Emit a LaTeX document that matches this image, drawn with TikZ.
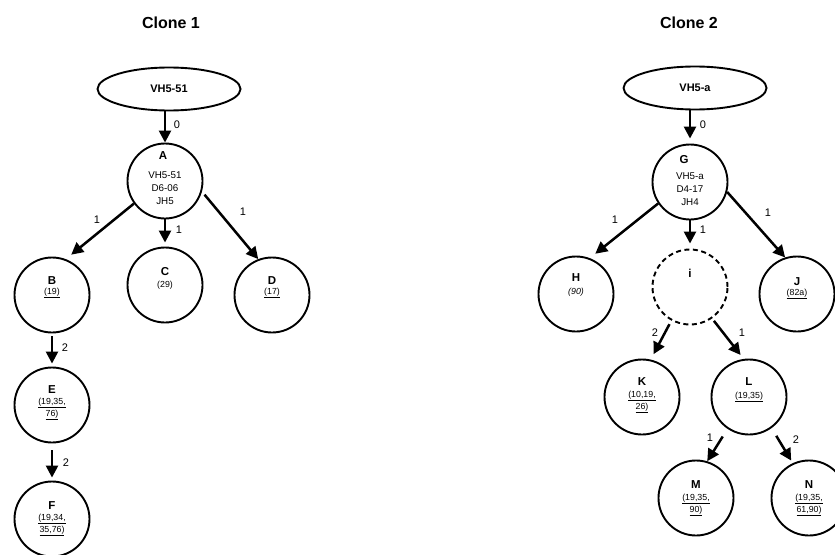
\documentclass[tikz,border=0pt]{standalone}
\usepackage{fontspec}
\setmainfont{Liberation Sans}
\usetikzlibrary{arrows.meta,shapes.geometric,calc}
\begin{document}
\begin{tikzpicture}[x=1pt,y=-1pt,
  circ/.style={circle, draw, line width=1.9pt, minimum size=75pt, inner sep=0pt},
  dcirc/.style={circ, dash pattern=on 5pt off 3.5pt},
  gene/.style={ellipse, draw, line width=1.9pt, minimum width=143pt, minimum height=43pt, inner sep=0pt, font=\bfseries\fontsize{11}{12}\selectfont},
  arr/.style={-{Triangle[length=12pt,width=12pt]}, line width=2.5pt},
  elab/.style={font=\fontsize{11}{12}\selectfont, inner sep=0pt},
  ttl/.style={font=\bfseries\fontsize{16}{18}\selectfont, inner sep=0pt},
  letter/.style={font=\bfseries\fontsize{11.5}{12}\selectfont, inner sep=0pt},
  det/.style={font=\fontsize{9.8}{13}\selectfont, align=center, inner sep=0pt},
  mut/.style={font=\fontsize{8.8}{12}\selectfont, align=center, inner sep=0pt}]
\useasboundingbox (0,0) rectangle (835,554);

% ---------------- Clone 1 ----------------
\node[ttl] (T1) at (171,23) {Clone 1};
\node[gene] (E1) at (169,89) {VH5-51};
\node[circ] (A) at (165,181) {};
\node[circ] (B) at (52,295) {};
\node[circ] (C) at (165,285) {};
\node[circ] (D) at (272,295) {};
\node[circ] (E) at (52,405) {};
\node[circ] (F) at (52,519) {};

\node[letter] (At) at (163,156) {A};
\node[det] (Ad) at (165,188) {VH5-51\\D6-06\\JH5};
\node[letter] (Bt) at (52,281) {B};
\node[mut] (Bd) at (52,293) {\underline{(19)}};
\node[letter] (Ct) at (165,272) {C};
\node[mut] (Cd) at (165,285) {(29)};
\node[letter] (Dt) at (272,281) {D};
\node[mut] (Dd) at (272,293) {\underline{(17)}};
\node[letter] (Et) at (52,390) {E};
\node[mut] (Ed) at (52,409) {\underline{(19,35,}\\\underline{76)}};
\node[letter] (Ft) at (52,506) {F};
\node[mut] (Fd) at (52,525) {\underline{(19,34,}\\\underline{35,76)}};

\draw[arr] (E1.south -| A.north) -- (A.north);
\draw[arr, shorten >=7pt] (A.216) -- (B.69);
\draw[arr, shorten >=4pt] (A.south) -- (C.north);
\draw[arr, shorten <=4pt] (A.344) -- (D.111);
\draw[arr, shorten <=3pt, shorten >=3pt] (B.south) -- (E.north);
\draw[arr, shorten <=7pt, shorten >=3pt] (E.south) -- (F.north);

\node[elab] (l0a) at (177,125) {0};
\node[elab] (l1a) at (97,220) {1};
\node[elab] (l1b) at (179,230) {1};
\node[elab] (l1c) at (243,212) {1};
\node[elab] (l2a) at (65,348) {2};
\node[elab] (l2b) at (66,463) {2};

% ---------------- Clone 2 ----------------
\node[ttl] (T2) at (689,23) {Clone 2};
\node[gene] (E2) at (695,88) {VH5-a};
\node[circ] (G) at (690,182) {};
\node[circ] (H) at (576,294) {};
\node[dcirc] (I) at (690,287) {};
\node[circ] (J) at (797,294) {};
\node[circ] (K) at (642,397) {};
\node[circ] (L) at (749,397) {};
\node[circ] (M) at (696,498) {};
\node[circ] (N) at (809,498) {};

\node[letter] (Gt) at (684,160) {G};
\node[det] (Gd) at (690,189) {VH5-a\\D4-17\\JH4};
\node[letter] (Ht) at (576,278) {H};
\node[mut] (Hd) at (576,292) {\itshape (90)};
\node[letter] (It) at (690,273) {i};
\node[letter] (Jt) at (797,282) {J};
\node[mut] (Jd) at (797,294) {\underline{(82a)}};
\node[letter] (Kt) at (642,382) {K};
\node[mut] (Kd) at (642,402) {\underline{(10,19,}\\\underline{26)}};
\node[letter] (Lt) at (749,382) {L};
\node[mut] (Ld) at (749,397) {\underline{(19,35)}};
\node[letter] (Mt) at (696,485) {M};
\node[mut] (Md) at (696,505) {\underline{(19,35,}\\\underline{90)}};
\node[letter] (Nt) at (809,485) {N};
\node[mut] (Nd) at (809,505) {\underline{(19,35,}\\\underline{61,90)}};

\draw[arr, shorten >=5pt] (E2.south -| G.north) -- (G.north);
\draw[arr, shorten >=7pt] (G.214) -- (H.69);
\draw[arr, shorten >=5pt] (G.south) -- (I.north);
\draw[arr] (G.345) -- (J.108);
\draw[arr, shorten <=4pt, shorten >=6pt] (I.241) -- (K.77);
\draw[arr, shorten <=3pt, shorten >=5pt] (I.305) -- (L.98);
\draw[arr, shorten <=9pt] (L.236) -- (M.73);
\draw[arr, shorten <=9pt, shorten >=3pt] (L.306) -- (N.115);

\node[elab] (l0g) at (703,125) {0};
\node[elab] (l1g) at (615,220) {1};
\node[elab] (l1h) at (703,230) {1};
\node[elab] (l1i) at (768,213) {1};
\node[elab] (l2k) at (655,333) {2};
\node[elab] (l1l) at (742,333) {1};
\node[elab] (l1m) at (710,438) {1};
\node[elab] (l2n) at (796,440) {2};
\end{tikzpicture}
\end{document}
